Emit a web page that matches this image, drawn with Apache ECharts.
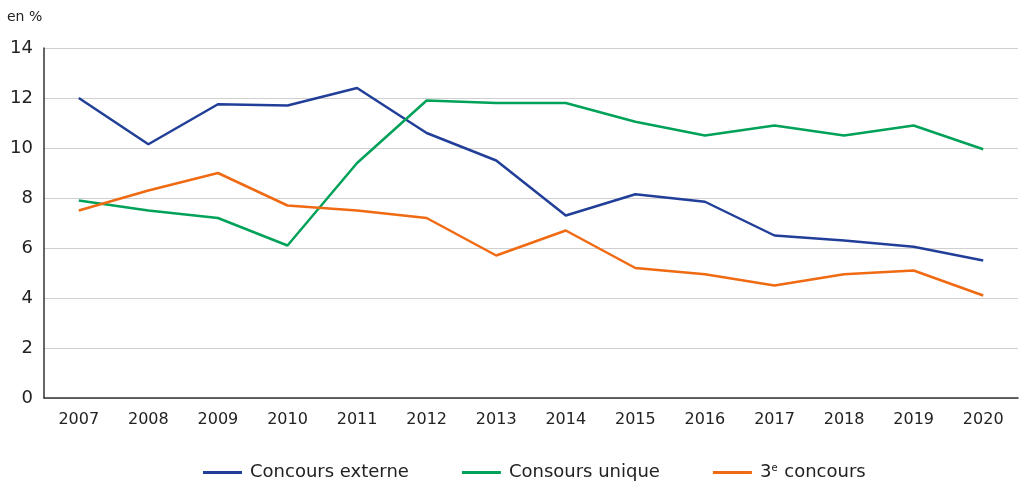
<!DOCTYPE html>
<html>
<head>
<meta charset="utf-8">
<script src="https://cdn.jsdelivr.net/npm/echarts@6/dist/echarts.min.js"></script>
<style>
  html, body { margin: 0; padding: 0; background: #fff; }
  #chart { width: 1021px; height: 481px; }
</style>
</head>
<body>
<div id="chart"></div>
<script>
const years = ['2007', '2008', '2009', '2010', '2011', '2012', '2013', '2014', '2015', '2016', '2017', '2018', '2019', '2020'];
const externe = [12.0, 10.15, 11.75, 11.7, 12.4, 10.6, 9.5, 7.3, 8.15, 7.85, 6.5, 6.3, 6.05, 5.5];
const unique = [7.9, 7.5, 7.2, 6.1, 9.4, 11.9, 11.8, 11.8, 11.05, 10.5, 10.9, 10.5, 10.9, 9.95];
const troisieme = [7.5, 8.3, 9.0, 7.7, 7.5, 7.2, 5.7, 6.7, 5.2, 4.95, 4.5, 4.95, 5.1, 4.1];

const font = 'DejaVu Sans';
const chart = echarts.init(document.getElementById('chart'));

function line(name, data, color) {
  return {
    name: name,
    type: 'line',
    data: data,
    symbol: 'none',
    lineStyle: { color: color, width: 2.5 },
    itemStyle: { color: color }
  };
}

chart.setOption({
  animation: false,
  title: {
    text: 'en %',
    left: 2,
    top: 5,
    textStyle: { fontFamily: font, fontSize: 14, fontWeight: 'normal', color: '#222' }
  },
  grid: { left: 44, right: 3, top: 48, bottom: 83 },
  legend: {
    top: 458,
    left: 198,
    itemWidth: 39,
    itemHeight: 3,
    itemGap: 53,
    icon: 'rect',
    textStyle: {
      fontFamily: font, fontSize: 18, color: '#222', padding: [0, 0, 0, 3],
      rich: { sup: { fontFamily: font, fontSize: 10, verticalAlign: 'top', padding: [0, 1, 9, 0], color: '#222' } }
    },
    formatter: function (n) {
      return n === '3e concours' ? '3{sup|e} concours' : n;
    },
    data: ['Concours externe', 'Consours unique', '3e concours']
  },
  xAxis: {
    type: 'category',
    data: years,
    boundaryGap: true,
    axisLine: { lineStyle: { color: '#333', width: 1.5 } },
    axisTick: { show: false },
    axisLabel: { fontFamily: font, fontSize: 16, color: '#222', margin: 14 }
  },
  yAxis: {
    type: 'value',
    min: 0,
    max: 14,
    interval: 2,
    axisLine: { show: true, lineStyle: { color: '#333', width: 1.5 } },
    axisTick: { show: false },
    axisLabel: { fontFamily: font, fontSize: 18, color: '#222', margin: 11 },
    splitLine: { lineStyle: { color: '#d0d0d0', width: 1 } }
  },
  series: [
    line('Concours externe', externe, '#213f99'),
    line('Consours unique', unique, '#00a159'),
    line('3e concours', troisieme, '#ef6a12')
  ]
});
</script>
</body>
</html>
